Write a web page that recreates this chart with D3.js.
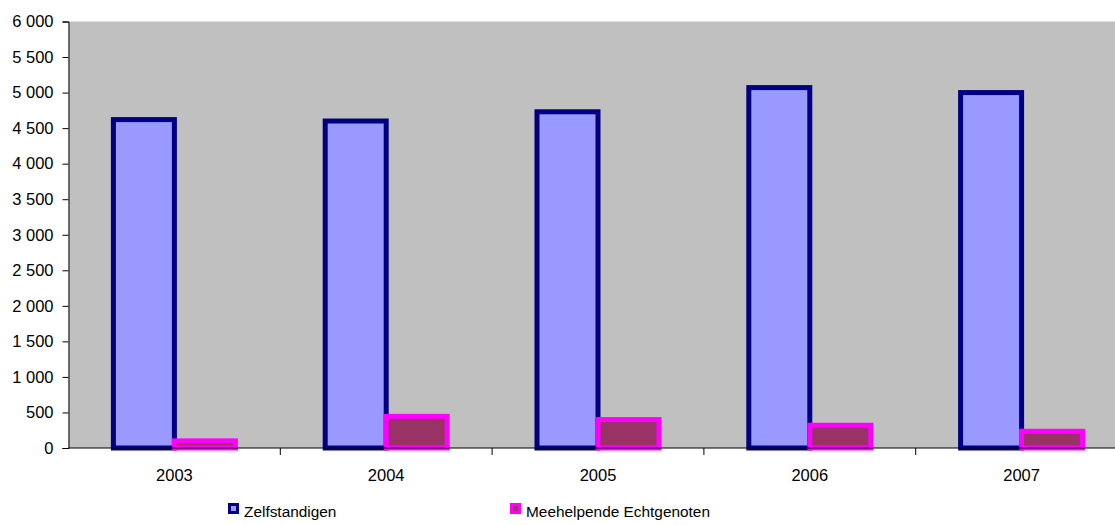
<!DOCTYPE html>
<html><head><meta charset="utf-8">
<script src="https://cdn.jsdelivr.net/npm/d3@7"></script>
<style>body{margin:0;background:#fff;}svg{display:block;font-family:"Liberation Sans",Arial,sans-serif;}</style>
</head><body>
<svg id="c" width="1115" height="525"></svg>
<script>
const years = ["2003","2004","2005","2006","2007"];
const zelfstandigen = [4620, 4600, 4730, 5070, 5000];
const meehelpende = [100, 445, 400, 320, 235];
const seriesNames = ["Zelfstandigen","Meehelpende Echtgenoten"];
const yTicks = [0,500,1000,1500,2000,2500,3000,3500,4000,4500,5000,5500,6000];

const svg = d3.select("#c");
const L = 68.5, T = 21.5, B = 448, catW = 211.8;
const R = L + catW * years.length;
const x = d3.scaleBand().domain(years).range([L, R]).paddingInner(0).paddingOuter(0);
const y = d3.scaleLinear().domain([0, 6000]).range([B, T]);
const fmt = v => d3.format(",")(v).replace(/,/g, " ");
const axisFont = 16.5, legFont = 15.4;

svg.append("rect").attr("x", L).attr("y", T).attr("width", R - L).attr("height", B - T).attr("fill", "#C0C0C0");

const barW = 61;
const series = [
  {vals: zelfstandigen, fill: "#9999FF", stroke: "#000080", off: -barW},
  {vals: meehelpende, fill: "#993366", stroke: "#FF00FF", off: 0}
];
series.forEach(s => {
  svg.append("g").selectAll("rect").data(years).join("rect")
    .attr("x", d => x(d) + x.bandwidth()/2 + s.off)
    .attr("y", (d,i) => y(s.vals[i]))
    .attr("width", barW)
    .attr("height", (d,i) => B - y(s.vals[i]))
    .attr("fill", s.fill).attr("stroke", s.stroke).attr("stroke-width", 5);
});

// y axis
const ya = svg.append("g").attr("transform", `translate(${L},0)`)
  .call(d3.axisLeft(y).tickValues(yTicks).tickFormat(fmt).tickSize(6).tickPadding(9));
ya.select(".domain").attr("stroke", "#000");
ya.selectAll("text").attr("font-size", axisFont).attr("fill", "#000").attr("font-family", "Liberation Sans, Arial, sans-serif");

// x axis
const xa = svg.append("g").attr("transform", `translate(0,${B})`);
xa.append("line").attr("x1", L).attr("x2", R).attr("y1", 0).attr("y2", 0).attr("stroke", "#000");
xa.selectAll("line.t").data(years.slice(1)).join("line").attr("class","t")
  .attr("x1", d => x(d)).attr("x2", d => x(d)).attr("y1", 0).attr("y2", 7).attr("stroke", "#000");
xa.selectAll("text").data(years).join("text")
  .attr("x", d => x(d) + x.bandwidth()/2).attr("y", 32.5)
  .attr("text-anchor", "middle").attr("font-size", axisFont).attr("fill", "#000").text(d => d);

// legend
const legX = [228, 510];
const lg = svg.append("g");
series.forEach((s, i) => {
  lg.append("rect").attr("x", legX[i]).attr("y", 503).attr("width", 11).attr("height", 11).attr("fill", s.stroke);
  lg.append("rect").attr("x", legX[i] + 3).attr("y", 506).attr("width", 5).attr("height", 5).attr("fill", s.fill);
  lg.append("text").attr("x", legX[i] + 16).attr("y", 517).attr("font-size", legFont).attr("fill", "#000").text(seriesNames[i]);
});
</script>
</body></html>
